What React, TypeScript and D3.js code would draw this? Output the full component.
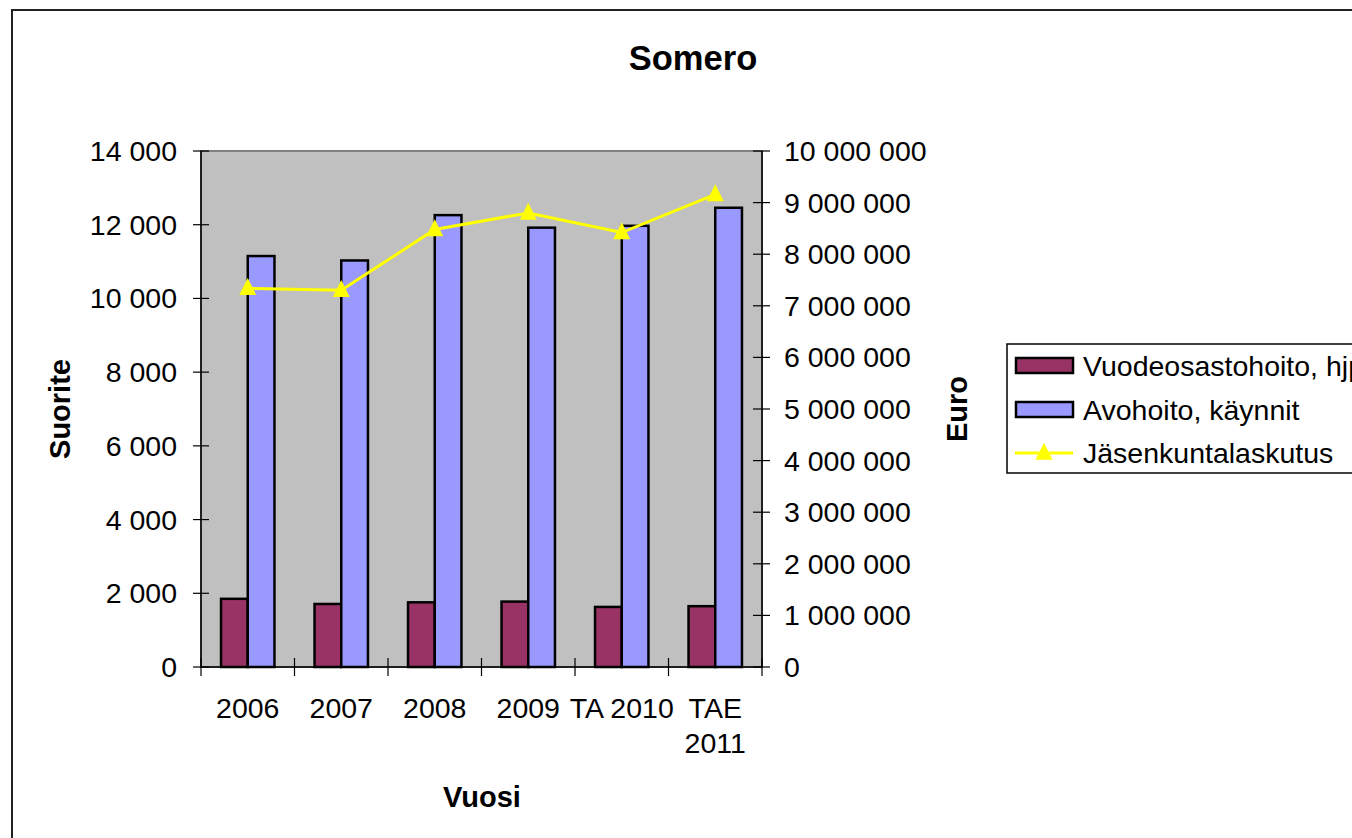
import React from "react";
import * as d3 from "d3";

const categories = ["2006", "2007", "2008", "2009", "TA 2010", "TAE 2011"];
const vuodeosastohoito = [1850, 1710, 1755, 1775, 1630, 1650];
const avohoito = [11150, 11030, 12260, 11920, 11970, 12460];
const jasenkuntalaskutus = [7340000, 7300000, 8480000, 8800000, 8420000, 9160000];
const leftTicks = [0, 2000, 4000, 6000, 8000, 10000, 12000, 14000];
const rightTicks = [0, 1000000, 2000000, 3000000, 4000000, 5000000, 6000000, 7000000, 8000000, 9000000, 10000000];
const seriesNames = ["Vuodeosastohoito, hjp", "Avohoito, käynnit", "Jäsenkuntalaskutus"];

const W = 1352, H = 838;
const L = 201, R = 762, T = 151, B = 667;
const FONT = "Arial, 'Liberation Sans', sans-serif";
const FS = 28.5;
const MAROON = "#993366", BLUE = "#9999FF", YELLOW = "#FFFF00";

const fmt = (v: number) => d3.format(",")(v).replace(/,/g, " ");

function tri(cx: number, cy: number, s: number) {
  const h = s;
  return `M${cx},${cy - h * 0.6} L${cx + s / 2},${cy + h * 0.4} L${cx - s / 2},${cy + h * 0.4} Z`;
}

export default function App() {
  const x = d3.scaleBand<string>().domain(categories).range([L, R]);
  const inner = d3.scaleBand<string>().domain(["a", "b"]).range([0, (x.bandwidth() * 2) / 3.5]);
  const off = (x.bandwidth() - inner.range()[1]) / 2;
  const yL = d3.scaleLinear().domain([0, 14000]).range([B, T]);
  const yR = d3.scaleLinear().domain([0, 10000000]).range([B, T]);
  const line = d3
    .line<number>()
    .x((_, i) => x(categories[i])! + x.bandwidth() / 2)
    .y((d) => yR(d));

  const edges = [...categories.map((c) => x(c)!), R];

  return (
    <svg width={W} height={H} style={{ position: "absolute", left: 0, top: 0, background: "#fff" }} fontFamily={FONT}>
      <rect x={12} y={10} width={1400} height={900} fill="#fff" stroke="#222" strokeWidth={2} />
      <text x={693} y={70} textAnchor="middle" fontSize={34.5} fontWeight="bold">Somero</text>

      {/* plot area */}
      <rect x={L} y={T} width={R - L} height={B - T} fill="#C0C0C0" stroke="#808080" strokeWidth={2} />

      {/* bars */}
      {categories.map((c, i) => (
        <g key={c}>
          <rect
            x={x(c)! + off + inner("a")!}
            y={yL(vuodeosastohoito[i])}
            width={inner.bandwidth()}
            height={B - yL(vuodeosastohoito[i])}
            fill={MAROON}
            stroke="#000"
            strokeWidth={2.5}
          />
          <rect
            x={x(c)! + off + inner("b")!}
            y={yL(avohoito[i])}
            width={inner.bandwidth()}
            height={B - yL(avohoito[i])}
            fill={BLUE}
            stroke="#000"
            strokeWidth={2.5}
          />
        </g>
      ))}

      {/* line */}
      <path d={line(jasenkuntalaskutus)!} fill="none" stroke={YELLOW} strokeWidth={3} />
      {jasenkuntalaskutus.map((v, i) => (
        <path key={i} d={tri(x(categories[i])! + x.bandwidth() / 2, yR(v), 17)} fill={YELLOW} />
      ))}

      {/* left axis */}
      <line x1={L} x2={L} y1={T} y2={B} stroke="#000" strokeWidth={1.5} />
      {leftTicks.map((t) => (
        <g key={t}>
          <line x1={L - 8} x2={L + 8} y1={yL(t)} y2={yL(t)} stroke="#000" strokeWidth={1.2} />
          <text x={177} y={yL(t)} dy="0.35em" textAnchor="end" fontSize={FS}>{fmt(t)}</text>
        </g>
      ))}

      {/* right axis */}
      <line x1={R} x2={R} y1={T} y2={B} stroke="#000" strokeWidth={1.5} />
      {rightTicks.map((t) => (
        <g key={t}>
          <line x1={R - 9} x2={R + 8} y1={yR(t)} y2={yR(t)} stroke="#000" strokeWidth={1.2} />
          <text x={784} y={yR(t)} dy="0.35em" textAnchor="start" fontSize={FS}>{fmt(t)}</text>
        </g>
      ))}

      {/* category axis */}
      <line x1={L} x2={R} y1={B} y2={B} stroke="#000" strokeWidth={1.5} />
      {edges.map((e, i) => (
        <line key={i} x1={e} x2={e} y1={B - 9} y2={B + 9} stroke="#000" strokeWidth={1.2} />
      ))}
      {categories.map((c) => {
        const cx = x(c)! + x.bandwidth() / 2;
        const lines = c === "TAE 2011" ? ["TAE", "2011"] : [c];
        return lines.map((ln, j) => (
          <text key={c + j} x={cx} y={718 + j * 35} textAnchor="middle" fontSize={FS}>{ln}</text>
        ));
      })}

      {/* axis titles */}
      <text x={482} y={807} textAnchor="middle" fontSize={29} fontWeight="bold">Vuosi</text>
      <text transform="translate(70,409) rotate(-90)" textAnchor="middle" fontSize={29} fontWeight="bold">Suorite</text>
      <text transform="translate(967,409) rotate(-90)" textAnchor="middle" fontSize={29} fontWeight="bold">Euro</text>

      {/* legend */}
      <rect x={1007} y={344} width={400} height={129} fill="#fff" stroke="#000" strokeWidth={1.5} />
      <rect x={1016} y={358} width={57} height={15} fill={MAROON} stroke="#000" strokeWidth={2.5} />
      <text x={1083} y={366} dy="0.35em" fontSize={FS}>{seriesNames[0]}</text>
      <rect x={1016} y={402} width={57} height={15} fill={BLUE} stroke="#000" strokeWidth={2.5} />
      <text x={1083} y={410} dy="0.35em" fontSize={FS}>{seriesNames[1]}</text>
      <line x1={1015} x2={1073} y1={453} y2={453} stroke={YELLOW} strokeWidth={3} />
      <path d={tri(1044, 453, 17)} fill={YELLOW} />
      <text x={1083} y={453} dy="0.35em" fontSize={FS}>{seriesNames[2]}</text>
    </svg>
  );
}
